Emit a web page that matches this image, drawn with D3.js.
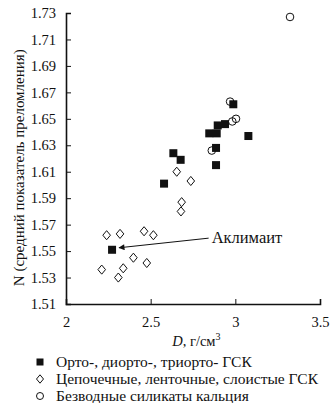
<!DOCTYPE html>
<html>
<head>
<meta charset="utf-8">
<script src="https://cdnjs.cloudflare.com/ajax/libs/d3/7.8.5/d3.min.js"></script>
<style>
  body { margin: 0; background: #fff; }
  svg text { font-family: "Liberation Serif", "Times New Roman", Tinos, "DejaVu Serif", serif; fill: #111; }
</style>
</head>
<body>
<div id="chart"></div>
<script>
// density D (g/cm3) and mean refractive index N
const orthoD = [2.988, 2.896, 2.939, 2.846, 2.890, 3.077, 2.886, 2.886, 2.634, 2.677, 2.579, 2.272];
const orthoN = [1.661, 1.645, 1.646, 1.639, 1.639, 1.637, 1.628, 1.615, 1.624, 1.619, 1.601, 1.551];

const chainD = [2.654, 2.737, 2.683, 2.679, 2.240, 2.319, 2.461, 2.516, 2.398, 2.477, 2.338, 2.211, 2.309];
const chainN = [1.610, 1.603, 1.587, 1.580, 1.562, 1.563, 1.565, 1.562, 1.545, 1.541, 1.537, 1.536, 1.530];

const anhydD = [2.969, 3.004, 2.982, 2.861, 3.323];
const anhydN = [1.663, 1.650, 1.648, 1.626, 1.727];

const xTicks = [2, 2.5, 3, 3.5];
const yTicks = [1.51, 1.53, 1.55, 1.57, 1.59, 1.61, 1.63, 1.65, 1.67, 1.69, 1.71, 1.73];

const legendLabels = [
  'Орто-, диорто-, триорто- ГСК',
  'Цепочечные, ленточные, слоистые ГСК',
  'Безводные силикаты кальция'
];

const FONT = '"Liberation Serif", "Times New Roman", Tinos, "DejaVu Serif", serif';

const W = 333, H = 403;
const margin = { top: 13, right: 13, bottom: 99, left: 66 };
const width = W - margin.left - margin.right;
const height = H - margin.top - margin.bottom;

const svg = d3.select('#chart').append('svg')
  .attr('width', W)
  .attr('height', H)
  .attr('font-family', FONT);

const g = svg.append('g')
  .attr('transform', `translate(${margin.left},${margin.top})`);

const x = d3.scaleLinear().domain([2, 3.5]).range([0, width]);
const y = d3.scaleLinear().domain([1.51, 1.73]).range([height, 0]);

// axes, ticks pointing inward
const xAxis = g.append('g')
  .attr('transform', `translate(0,${height})`)
  .call(d3.axisBottom(x).tickValues(xTicks).tickSize(-5).tickPadding(13).tickFormat(d3.format('')));
const yAxis = g.append('g')
  .call(d3.axisLeft(y).tickValues(yTicks).tickSize(-5).tickPadding(10).tickFormat(d3.format('.2f')));

[xAxis, yAxis].forEach(a => {
  a.attr('font-family', FONT);
  a.select('.domain').attr('stroke', '#111').attr('stroke-width', 1.6);
  a.selectAll('.tick line').attr('stroke', '#111').attr('stroke-width', 1);
  a.selectAll('.tick text')
    .style('font-family', FONT)
    .style('font-size', '14.5px')
    .attr('fill', '#111');
});

// axis titles
const xTitle = svg.append('text')
  .attr('x', margin.left + x(2.77))
  .attr('y', 346)
  .attr('text-anchor', 'middle')
  .style('font-size', '14.5px');
xTitle.append('tspan').style('font-style', 'italic').text('D');
xTitle.append('tspan').text(', г/см');
xTitle.append('tspan').attr('dy', -6).style('font-size', '10px').text('3');

svg.append('text')
  .attr('transform', `translate(24,${margin.top + y(1.613)}) rotate(-90)`)
  .attr('text-anchor', 'middle')
  .style('font-size', '15px')
  .text('N (средний показатель преломления)');

// markers
const chain = chainD.map((d, i) => ({ d, n: chainN[i] }));
const ortho = orthoD.map((d, i) => ({ d, n: orthoN[i] }));
const anhyd = anhydD.map((d, i) => ({ d, n: anhydN[i] }));

const diamond = (cx, cy, s) => `M${cx},${cy - s * 1.2}L${cx + s},${cy}L${cx},${cy + s * 1.2}L${cx - s},${cy}Z`;

g.append('g').selectAll('path').data(chain).join('path')
  .attr('d', p => diamond(x(p.d), y(p.n), 3.8))
  .attr('fill', '#fff')
  .attr('stroke', '#111')
  .attr('stroke-width', 1);

g.append('g').selectAll('circle').data(anhyd).join('circle')
  .attr('cx', p => x(p.d))
  .attr('cy', p => y(p.n))
  .attr('r', 3.8)
  .attr('fill', 'none')
  .attr('stroke', '#111')
  .attr('stroke-width', 1);

g.append('g').selectAll('rect').data(ortho).join('rect')
  .attr('x', p => x(p.d) - 4)
  .attr('y', p => y(p.n) - 4)
  .attr('width', 8)
  .attr('height', 8)
  .attr('fill', '#111');

// annotation: Аклимаит
const aklim = ortho[ortho.length - 1];
const labelD = 2.86, labelN = 1.556;
svg.append('defs').append('marker')
  .attr('id', 'arr')
  .attr('viewBox', '0 0 10 10')
  .attr('refX', 9).attr('refY', 5)
  .attr('markerWidth', 9).attr('markerHeight', 6)
  .attr('orient', 'auto')
  .append('path')
  .attr('d', 'M0,0L10,5L0,10Z')
  .attr('fill', '#111');

g.append('line')
  .attr('x1', x(labelD) - 3)
  .attr('y1', y(labelN) - 5)
  .attr('x2', x(aklim.d) + 7)
  .attr('y2', y(aklim.n) - 2)
  .attr('stroke', '#111')
  .attr('stroke-width', 1)
  .attr('marker-end', 'url(#arr)');

g.append('text')
  .attr('x', x(labelD))
  .attr('y', y(labelN))
  .style('font-size', '16.5px')
  .text('Аклимаит');

// legend
const legend = svg.append('g').attr('transform', 'translate(40,362)');
legendLabels.forEach((label, i) => {
  const row = legend.append('g').attr('transform', `translate(0,${i * 17})`);
  if (i === 0) {
    row.append('rect').attr('x', -3.5).attr('y', -3.5).attr('width', 7).attr('height', 7).attr('fill', '#111');
  } else if (i === 1) {
    row.append('path').attr('d', diamond(0, 0, 3.5)).attr('fill', '#fff').attr('stroke', '#111');
  } else {
    row.append('circle').attr('r', 3.5).attr('fill', 'none').attr('stroke', '#111');
  }
  row.append('text')
    .attr('x', 16)
    .attr('y', 5)
    .style('font-size', '15.5px')
    .text(label);
});
</script>
</body>
</html>
